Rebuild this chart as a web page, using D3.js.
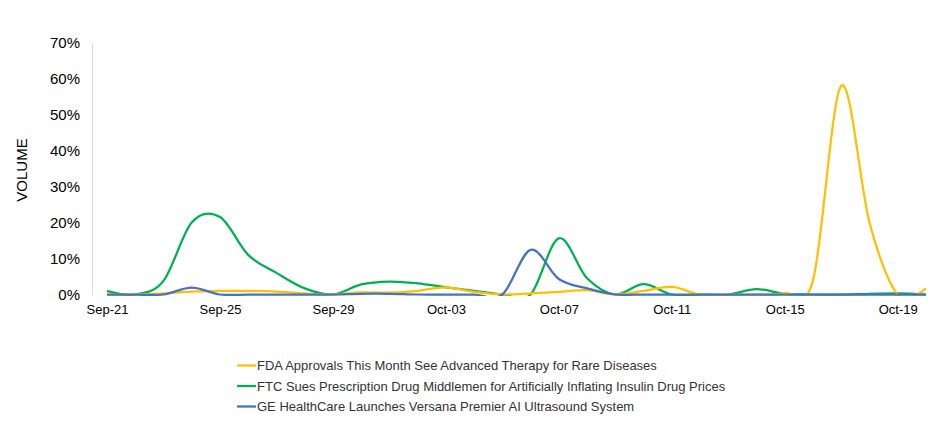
<!DOCTYPE html>
<html><head><meta charset="utf-8">
<script src="https://cdn.jsdelivr.net/npm/d3@7"></script>
<style>body{margin:0;background:#fff;font-family:"Liberation Sans",Arial,sans-serif;}</style>
</head><body><svg id="c" width="935" height="423"></svg>
<script>
const dates = ["Sep-21","Sep-22","Sep-23","Sep-24","Sep-25","Sep-26","Sep-27","Sep-28","Sep-29","Sep-30",
"Oct-01","Oct-02","Oct-03","Oct-04","Oct-05","Oct-06","Oct-07","Oct-08","Oct-09","Oct-10",
"Oct-11","Oct-12","Oct-13","Oct-14","Oct-15","Oct-16","Oct-17","Oct-18","Oct-19","Oct-20"];
const tickLabels = ["Sep-21","Sep-25","Sep-29","Oct-03","Oct-07","Oct-11","Oct-15","Oct-19"];
const yTicks = [0,10,20,30,40,50,60,70];
const seriesNames = ["FDA Approvals This Month See Advanced Therapy for Rare Diseases",
"FTC Sues Prescription Drug Middlemen for Artificially Inflating Insulin Drug Prices",
"GE HealthCare Launches Versana Premier AI Ultrasound System"];
const fdaValues = [0,0,0.3,0.8,1,1,0.8,0.3,0,0.6,0.5,1,2,0.7,0,0.3,0.7,1.2,0,1,2.1,0,0,0,0.4,4,58,20,0,1.7];
const ftcValues = [1,0,3.8,20,21.5,11,6,1.7,0,2.8,3.6,3.1,2,1,0,0,15.6,4.5,0,2.9,0,0,0,1.5,0.2,0,0,0.2,0.3,0];
const geValues  = [0,0,0,1.9,0,0,0,0,0,0.2,0.2,0,0,0,0,12.4,4.3,1.7,0,0,0,0,0,0,0,0,0,0,0,0];
const colors = ["#FFC000","#00B050","#4472C4"];

const svg = d3.select("#c");
const x = d3.scalePoint().domain(dates).range([107, 926]);
const y = d3.scaleLinear().domain([0,70]).range([294.5, 42.5]);

svg.append("defs").append("clipPath").attr("id","clip").append("rect")
  .attr("x",92).attr("y",30).attr("width",843).attr("height",266);

// y axis
const ya = svg.append("g").attr("transform","translate(92,0)")
  .call(d3.axisLeft(y).tickValues(yTicks).tickFormat(d=>d+"%").tickSize(0).tickPadding(12));
ya.select(".domain").attr("stroke","#d9d9d9");
ya.selectAll("text").attr("font-size",15).attr("fill","#000").attr("font-family","Liberation Sans, Arial, sans-serif");

// x axis
const xa = svg.append("g").attr("transform","translate(0,294.5)")
  .call(d3.axisBottom(x).tickValues(tickLabels).tickSize(0).tickPadding(10));
xa.select(".domain").remove();
xa.selectAll("text").attr("font-size",13).attr("fill","#000").attr("font-family","Liberation Sans, Arial, sans-serif");

svg.append("text").attr("transform","translate(27,170) rotate(-90)")
  .attr("text-anchor","middle").attr("font-size",15).attr("fill","#000").text("VOLUME");

const line = d3.line().x((d,i)=>x(dates[i])).y(d=>y(d)).curve(d3.curveCatmullRom.alpha(0));
const all = [fdaValues, ftcValues, geValues];
const g = svg.append("g").attr("clip-path","url(#clip)");
[1,0,2].forEach(k=>{
  g.append("path").attr("d", line(all[k])).attr("fill","none")
   .attr("stroke",colors[k]).attr("stroke-width",2.25).attr("stroke-linejoin","round");
});

// legend
const lg = svg.append("g");
seriesNames.forEach((n,i)=>{
  const yy = 365.5 + i*20.5;
  lg.append("line").attr("x1",237).attr("x2",256).attr("y1",yy).attr("y2",yy)
    .attr("stroke",colors[i]).attr("stroke-width",2.25);
  lg.append("text").attr("x",257).attr("y",yy+4.5).attr("font-size",13).attr("fill","#333").text(n);
});
</script></body></html>
